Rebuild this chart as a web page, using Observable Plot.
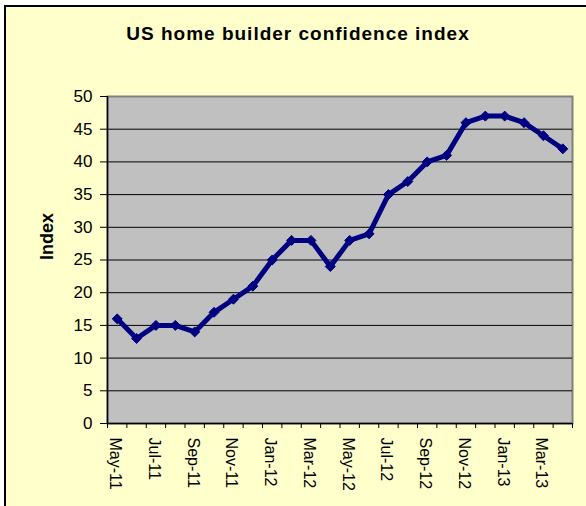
<!DOCTYPE html>
<html><head><meta charset="utf-8">
<script src="https://cdn.jsdelivr.net/npm/d3@7"></script>
<script src="https://cdn.jsdelivr.net/npm/@observablehq/plot@0.6"></script>
<style>
body{margin:0;background:#fff;width:586px;height:506px;overflow:hidden;position:relative;font-family:Arial,"Liberation Sans",sans-serif}
#frame{position:absolute;left:4px;top:5px;width:600px;height:520px;border-left:2px solid #000;border-top:2px solid #000;background:#ffffcc}
#title{position:absolute;left:10px;width:576px;top:23px;text-align:center;font-weight:bold;font-size:19px;letter-spacing:1px;line-height:22px;color:#000}
#chart{position:absolute;left:0;top:80px}
</style></head><body>
<div id="frame"></div>
<div id="title">US home builder confidence index</div>
<div id="chart"></div>
<script>
const months = ["May-11","Jun-11","Jul-11","Aug-11","Sep-11","Oct-11","Nov-11","Dec-11",
  "Jan-12","Feb-12","Mar-12","Apr-12","May-12","Jun-12","Jul-12","Aug-12","Sep-12","Oct-12",
  "Nov-12","Dec-12","Jan-13","Feb-13","Mar-13","Apr-13"];
const values = [16,13,15,15,14,17,19,21,25,28,28,24,28,29,35,37,40,41,46,47,47,46,44,42];
const yTicks = [0,5,10,15,20,25,30,35,40,45,50];
const axisTitle = "Index";

const data = months.map((m, i) => ({month: m, pos: i + 0.5, value: values[i]}));
const labelPos = data.filter((d, i) => i % 2 === 0).map(d => d.pos);
const boundaries = d3.range(months.length + 1);

const plot = Plot.plot({
  width: 586, height: 426,
  marginTop: 16, marginBottom: 83, marginLeft: 107, marginRight: 14,
  style: {background: "transparent", fontFamily: "Arial, 'Liberation Sans', sans-serif", fontSize: "16px", color: "#000", overflow: "visible"},
  x: {type: "linear", domain: [0, months.length]},
  y: {domain: [0, 50]},
  marks: [
    Plot.frame({fill: "#c0c0c0", stroke: "#808080", strokeWidth: 2}),
    Plot.gridY(yTicks.filter(v => v > 0 && v < 50), {stroke: "#000", strokeOpacity: 1, strokeWidth: 1}),
    Plot.axisY(yTicks, {tickSize: 7, tickPadding: 8, fontSize: 17, label: null, stroke: "#000"}),
    Plot.axisX(boundaries, {tickSize: 5, tickFormat: () => "", label: null, stroke: "#000"}),
    Plot.axisX(labelPos, {tickSize: 0, tickPadding: 14, tickRotate: 90, fontSize: 16, dx: -2,
      tickFormat: p => months[Math.floor(p)], label: null}),
    Plot.ruleX([0], {stroke: "#000", strokeWidth: 1.5}),
    Plot.ruleY([0], {stroke: "#000", strokeWidth: 1.5}),
    Plot.line(data, {x: "pos", y: "value", stroke: "#000080", strokeWidth: 5, strokeLinejoin: "round"}),
    Plot.dot(data, {x: "pos", y: "value", symbol: "diamond2", r: 4.5, fill: "#000080", stroke: "#000080", strokeWidth: 1}),
    Plot.text([axisTitle], {frameAnchor: "left", dx: -60, rotate: -90, fontWeight: "bold", fontSize: 18, fill: "#000"})
  ]
});
document.getElementById("chart").appendChild(plot);
</script>
</body></html>
